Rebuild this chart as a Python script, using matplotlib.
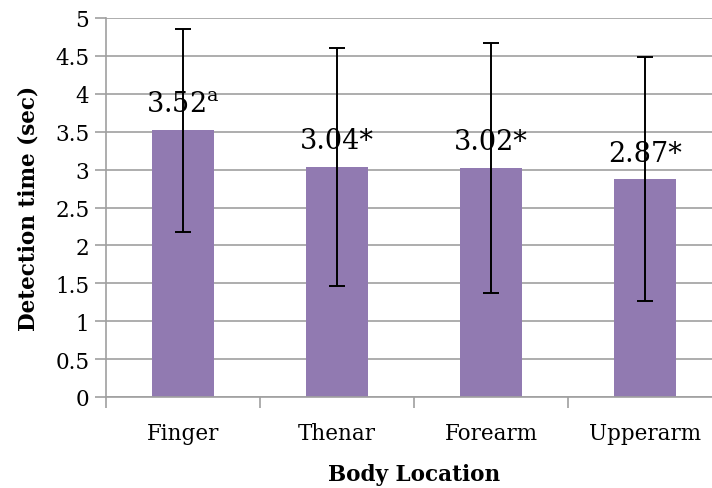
import matplotlib
matplotlib.use("Agg")
import matplotlib.pyplot as plt

# data
locations = ["Finger", "Thenar", "Forearm", "Upperarm"]
means = [3.52, 3.04, 3.02, 2.87]
errors = [1.34, 1.57, 1.65, 1.61]
marks = ["$^{\\mathrm{a}}$", "*", "*", "*"]
yticks = [0, 0.5, 1, 1.5, 2, 2.5, 3, 3.5, 4, 4.5, 5]
ytick_labels = ["0", "0.5", "1", "1.5", "2", "2.5", "3", "3.5", "4", "4.5", "5"]

plt.rcParams["font.family"] = ["DejaVu Serif"]
plt.rcParams["mathtext.fontset"] = "dejavuserif"

fig = plt.figure(figsize=(7.12, 4.89), dpi=100)
ax = fig.add_axes([106 / 712, 1 - 398 / 489, 616 / 712, 379 / 489])

x = list(range(len(locations)))
ax.bar(x, means, width=0.4, color="#917AB1", zorder=2)
ax.errorbar(x, means, yerr=errors, fmt="none", ecolor="black",
            elinewidth=1.4, capsize=5.5, capthick=1.4, zorder=3)

for xi, m, mk in zip(x, means, marks):
    ax.annotate(f"{m:.2f}{mk}", (xi, m), xytext=(0, 19), textcoords="offset points",
                ha="center", va="center", fontsize=19.5, zorder=4)

ax.set_xlim(-0.5, 3.5)
ax.set_ylim(0, 5)
ax.set_yticks(yticks)
ax.set_yticklabels(ytick_labels, fontsize=15.5)
ax.set_xticks(x)
ax.set_xticklabels(locations, fontsize=15.5)
ax.set_xticks([-0.5, 0.5, 1.5, 2.5, 3.5], minor=True)
ax.tick_params(axis="x", which="major", length=0, pad=18)
ax.tick_params(axis="x", which="minor", length=8, color="#A0A0A0", width=1.2)
ax.tick_params(axis="y", length=8, color="#A0A0A0", width=1.2, pad=4)

ax.grid(axis="y", color="#A0A0A0", linewidth=1.2, zorder=0)
ax.set_axisbelow(True)
for s in ["top", "right"]:
    ax.spines[s].set_visible(False)
for s in ["left", "bottom"]:
    ax.spines[s].set_color("#A0A0A0")
    ax.spines[s].set_linewidth(1.2)

ax.set_xlabel("Body Location", fontsize=15.5, fontweight="bold", labelpad=14)
ax.set_ylabel("Detection time (sec)", fontsize=15.5, fontweight="bold", labelpad=11)

fig.savefig("out.png", dpi=100)
